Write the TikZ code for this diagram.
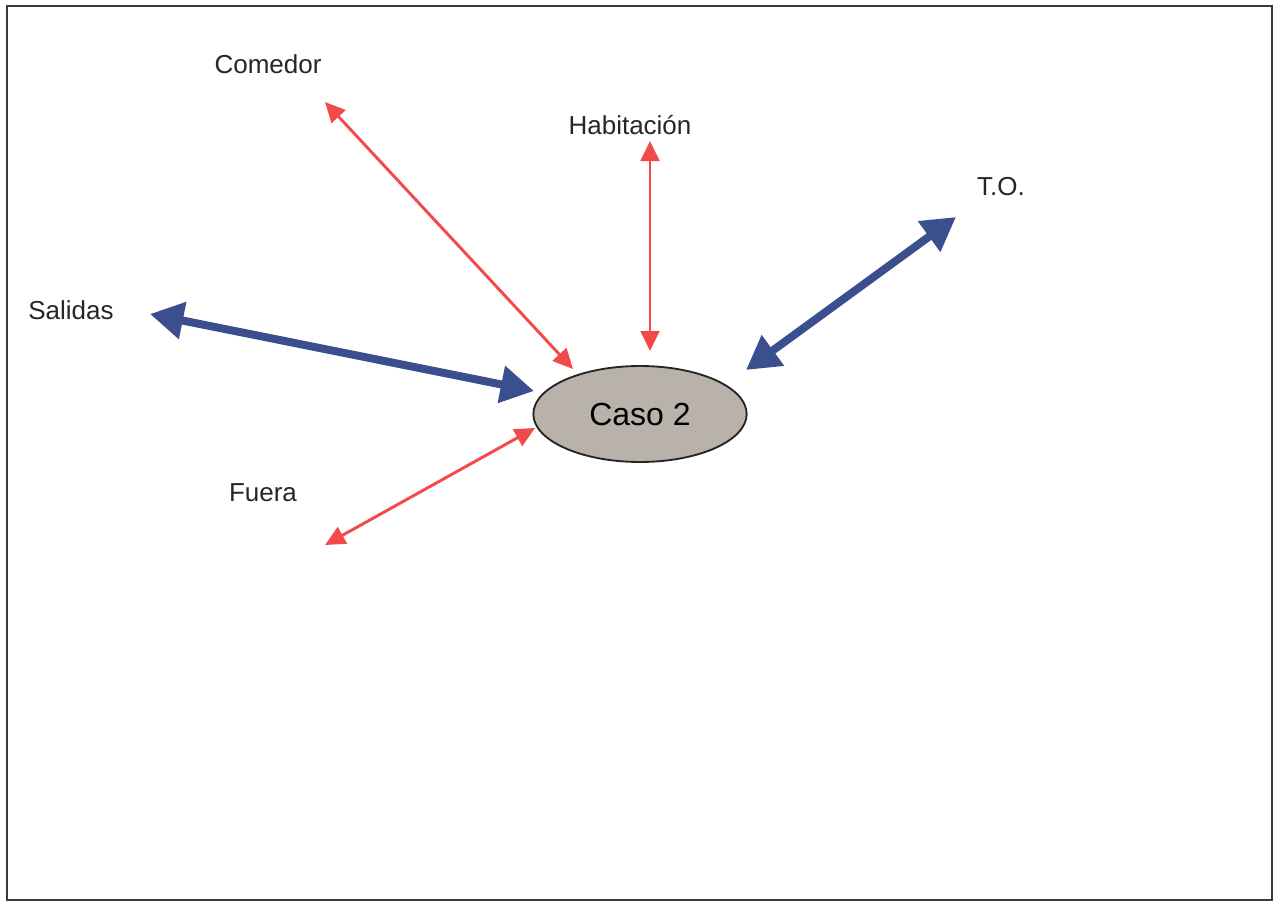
\documentclass[tikz,border=0pt]{standalone}
\usepackage{fontspec}
\setmainfont{Liberation Sans}
\usetikzlibrary{arrows.meta,shapes.geometric}
\definecolor{redarrow}{HTML}{F24A4A}
\definecolor{bluearrow}{HTML}{3B4F8E}
\definecolor{ellfill}{HTML}{B9B2AB}
\definecolor{framegray}{HTML}{3A3A3A}
\tikzset{
  lbl/.style={font=\fontsize{19.5}{22}\selectfont, text=black!85, inner sep=0pt},
  redarr/.style={draw=redarrow, line width=2.2pt, {Triangle[length=15pt,width=14pt]}-{Triangle[length=15pt,width=14pt]}},
  bluearr/.style={draw=bluearrow, line width=6pt, {Triangle[length=25pt,width=27pt]}-{Triangle[length=25pt,width=27pt]}},
  casebox/.style={ellipse, draw=black!85, line width=1.4pt, fill=ellfill, minimum width=160pt, minimum height=72pt, inner sep=0pt, font=\fontsize{24}{27}\selectfont}
}
\begin{document}
\begin{tikzpicture}[x=0.75pt,y=-0.75pt]
\useasboundingbox (0,0) rectangle (1275,903);
\draw[framegray, line width=2.2pt] (7,6) rectangle (1272,900);
\node[casebox] (caso) at (640,414) {Caso 2};
\node[lbl] (comedor) at (268,64) {Comedor};
\node[lbl] (habit) at (630,125) {Habitación};
\node[lbl] (to) at (1001,187) {T.O.};
\node[lbl] (salidas) at (71,310) {Salidas};
\node[lbl] (fuera) at (263,493) {Fuera};
\coordinate (c1) at (325,102);
\coordinate (c2) at (573,369);
\coordinate (h1) at (650,141);
\coordinate (h2) at (650,351);
\coordinate (t1) at (956,217);
\coordinate (t2) at (746,370);
\coordinate (s1) at (150,314);
\coordinate (s2) at (534,391);
\coordinate (f1) at (325,545);
\coordinate (f2) at (535,428);
\draw[redarr] (c1) -- (c2);
\draw[redarr] (h1) -- (h2);
\draw[bluearr] (t1) -- (t2);
\draw[bluearr] (s1) -- (s2);
\draw[redarr] (f1) -- (f2);
\end{tikzpicture}
\end{document}
